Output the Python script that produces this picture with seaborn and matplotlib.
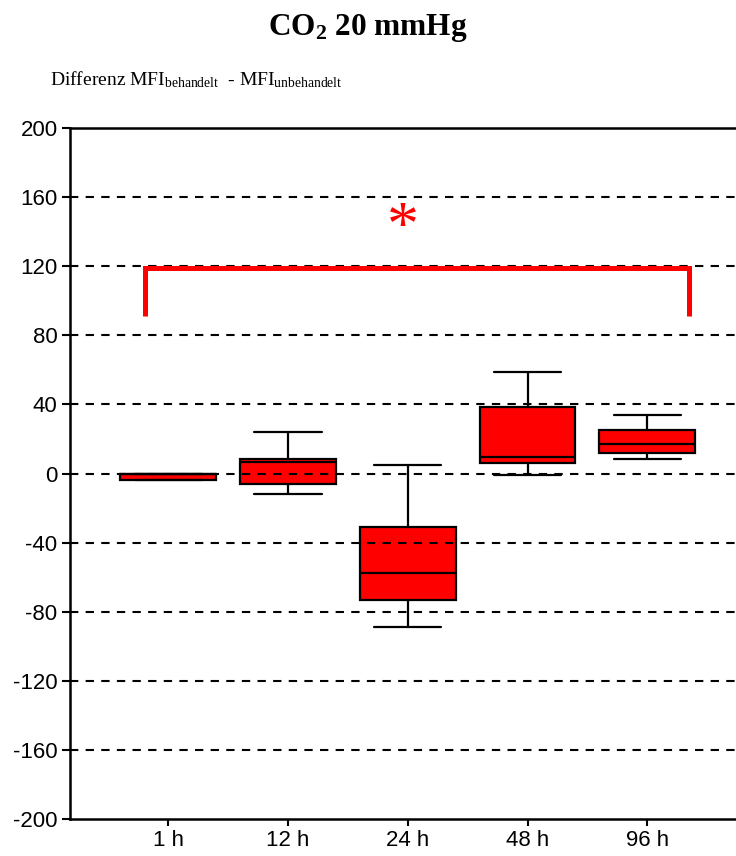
import numpy as np
import pandas as pd
import matplotlib
matplotlib.use("Agg")
import matplotlib.pyplot as plt
import seaborn as sns

# ---- data (five-number summaries: min, q1, median, q3, max)
categories = ["1 h", "12 h", "24 h", "48 h", "96 h"]
v_1h = [-3.5, -3.5, -0.2, 0.0, 0.0]
v_12h = [-12.1, -6.1, 6.8, 8.2, 23.8]
v_24h = [-88.9, -73.2, -57.4, -31.0, 4.7]
v_48h = [-0.9, 6.3, 9.7, 38.3, 58.6]
v_96h = [8.2, 12.1, 16.9, 25.2, 33.7]
y_ticks = [-200, -160, -120, -80, -40, 0, 40, 80, 120, 160, 200]
title_text = r"$\mathbf{CO_2}$ 20 mmHg"
subtitle_text = r"Differenz MFI$_{\mathrm{behandelt}}$  - MFI$_{\mathrm{unbehandelt}}$"
sig_text = "*"

values = [v_1h, v_12h, v_24h, v_48h, v_96h]
df = pd.DataFrame({
    "time": np.repeat(categories, [len(v) for v in values]),
    "value": np.concatenate(values),
})

sns.set_style("white")
plt.rcParams["font.family"] = ["Liberation Sans", "DejaVu Sans"]
plt.rcParams["text.color"] = "black"
plt.rcParams["mathtext.fontset"] = "custom"
plt.rcParams["mathtext.rm"] = "Liberation Serif"
plt.rcParams["mathtext.it"] = "Liberation Serif:italic"
plt.rcParams["mathtext.bf"] = "Liberation Serif:bold"

fig = plt.figure(figsize=(7.36, 8.56), dpi=100)
ax = fig.add_axes([70 / 736, 37 / 856, 1 - 70 / 736, (819 - 128) / 856])

# dashed grid lines
for t in y_ticks[1:-1]:
    ax.axhline(t, color="black", lw=1.5, ls=(0, (4, 3.5)), zorder=0)

kws = dict(data=df, x="time", y="value", order=categories, whis=(0, 100),
           width=0.8, color="#ff0000", saturation=1, linecolor="black",
           linewidth=1.6, ax=ax, showfliers=False)
try:
    sns.boxplot(capwidths=0.56, **kws)
except Exception:
    sns.boxplot(**kws)

for p in ax.patches:
    p.set_zorder(2)
    p.set_facecolor("#ff0000")
for ln in ax.lines:
    ln.set_zorder(3)
    ln.set_color("black")

ax.set_xlim(-0.82, 4.74)
ax.set_ylim(-200, 200)
ax.set_yticks(y_ticks)
ax.set_yticklabels([str(t) for t in y_ticks])
ax.set_xlabel("")
ax.set_ylabel("")

ax.spines["right"].set_visible(False)
for s in ["left", "top", "bottom"]:
    ax.spines[s].set_visible(True)
    ax.spines[s].set_color("black")
    ax.spines[s].set_linewidth(1.8)

ax.tick_params(axis="both", which="major", direction="out", length=5, width=1.5,
               color="black", labelsize=16, labelcolor="black", pad=3)
ax.tick_params(axis="y", length=6)
ax.yaxis.set_ticks_position("left")
ax.xaxis.set_ticks_position("bottom")

# significance bracket
ax.plot([-0.196, -0.196, 4.35, 4.35], [91.3, 119, 119, 91.3], color="#ff0000",
        lw=3.6, solid_joinstyle="miter", solid_capstyle="butt", zorder=4,
        clip_on=False)
ax.text(1.96, 141, sig_text, color="#ff0000", fontsize=46, ha="center",
        va="center", family="Liberation Serif", zorder=4)

fig.text(368 / 736, 1 - 28 / 856, title_text, ha="center", va="center",
         fontsize=22.5, fontweight="bold", family="Liberation Serif", color="black")
fig.text(50 / 736, 1 - 80 / 856, subtitle_text, ha="left", va="center",
         fontsize=14, family="Liberation Serif", color="black")

fig.savefig("out.png", dpi=100)
